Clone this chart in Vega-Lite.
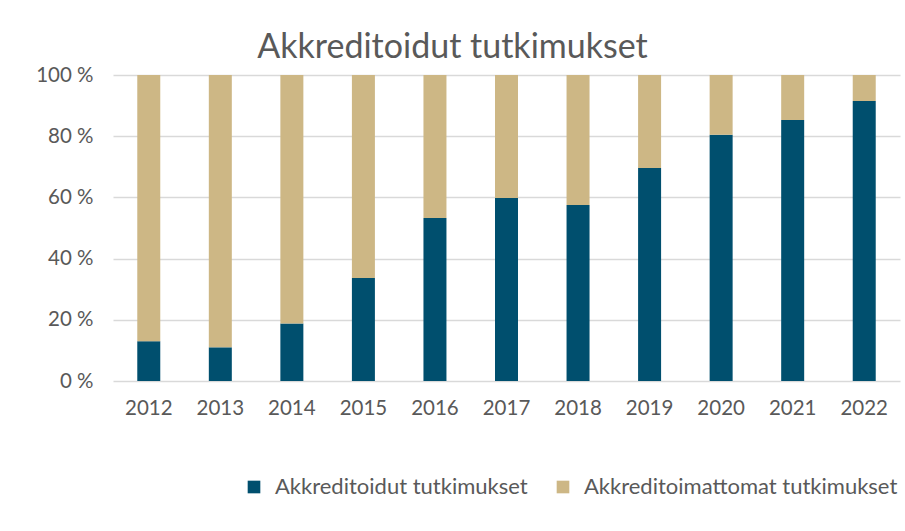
{
  "$schema": "https://vega.github.io/schema/vega-lite/v6.json",
  "width": 787,
  "height": 306,
  "autosize": {"type": "none"},
  "padding": {"left": 113, "top": 75, "right": 5, "bottom": 150},
  "background": "white",
  "title": {
    "text": "Akkreditoidut tutkimukset",
    "anchor": "middle",
    "frame": "group",
    "dx": -54,
    "offset": 0,
    "fontSize": 34,
    "font": "Lato",
    "fontWeight": "normal",
    "color": "#595959"
  },
  "data": {
    "values": [
      {"year": "2012", "series": "Akkreditoidut tutkimukset", "value": 13.0, "o": 1},
      {"year": "2013", "series": "Akkreditoidut tutkimukset", "value": 11.0, "o": 1},
      {"year": "2014", "series": "Akkreditoidut tutkimukset", "value": 18.8, "o": 1},
      {"year": "2015", "series": "Akkreditoidut tutkimukset", "value": 33.7, "o": 1},
      {"year": "2016", "series": "Akkreditoidut tutkimukset", "value": 53.3, "o": 1},
      {"year": "2017", "series": "Akkreditoidut tutkimukset", "value": 59.8, "o": 1},
      {"year": "2018", "series": "Akkreditoidut tutkimukset", "value": 57.5, "o": 1},
      {"year": "2019", "series": "Akkreditoidut tutkimukset", "value": 69.6, "o": 1},
      {"year": "2020", "series": "Akkreditoidut tutkimukset", "value": 80.5, "o": 1},
      {"year": "2021", "series": "Akkreditoidut tutkimukset", "value": 85.3, "o": 1},
      {"year": "2022", "series": "Akkreditoidut tutkimukset", "value": 91.5, "o": 1},
      {"year": "2012", "series": "Akkreditoimattomat tutkimukset", "value": 87.0, "o": 2},
      {"year": "2013", "series": "Akkreditoimattomat tutkimukset", "value": 89.0, "o": 2},
      {"year": "2014", "series": "Akkreditoimattomat tutkimukset", "value": 81.2, "o": 2},
      {"year": "2015", "series": "Akkreditoimattomat tutkimukset", "value": 66.3, "o": 2},
      {"year": "2016", "series": "Akkreditoimattomat tutkimukset", "value": 46.7, "o": 2},
      {"year": "2017", "series": "Akkreditoimattomat tutkimukset", "value": 40.2, "o": 2},
      {"year": "2018", "series": "Akkreditoimattomat tutkimukset", "value": 42.5, "o": 2},
      {"year": "2019", "series": "Akkreditoimattomat tutkimukset", "value": 30.4, "o": 2},
      {"year": "2020", "series": "Akkreditoimattomat tutkimukset", "value": 19.5, "o": 2},
      {"year": "2021", "series": "Akkreditoimattomat tutkimukset", "value": 14.7, "o": 2},
      {"year": "2022", "series": "Akkreditoimattomat tutkimukset", "value": 8.5, "o": 2}
    ]
  },
  "mark": {"type": "bar", "size": 23},
  "encoding": {
    "x": {
      "field": "year",
      "type": "nominal",
      "title": null,
      "scale": {"paddingInner": 0, "paddingOuter": 0},
      "axis": {
        "labelAngle": 0,
        "labelFontSize": 20.5,
        "labelFont": "Lato",
        "labelColor": "#595959",
        "labelPadding": 17,
        "ticks": false,
        "domain": false
      }
    },
    "y": {
      "field": "value",
      "type": "quantitative",
      "stack": "zero",
      "title": null,
      "scale": {"domain": [0, 100], "nice": false},
      "axis": {
        "values": [0, 20, 40, 60, 80, 100],
        "labelExpr": "datum.value + ' %'",
        "labelFontSize": 20.5,
        "labelFont": "Lato",
        "labelColor": "#595959",
        "labelPadding": 20,
        "ticks": false,
        "domain": false,
        "grid": true,
        "gridColor": "#d9d9d9",
        "gridWidth": 1.3
      }
    },
    "color": {
      "field": "series",
      "type": "nominal",
      "scale": {
        "domain": ["Akkreditoidut tutkimukset", "Akkreditoimattomat tutkimukset"],
        "range": ["#004f6e", "#cdb785"]
      },
      "legend": {
        "title": null,
        "orient": "none",
        "legendX": 130,
        "legendY": 401,
        "direction": "horizontal",
        "symbolType": "square",
        "symbolSize": 160,
        "symbolStrokeWidth": 0,
        "labelFontSize": 22,
        "labelFont": "Lato",
        "labelColor": "#595959",
        "labelOffset": 10,
        "columnPadding": 24,
        "labelLimit": 400
      }
    },
    "order": {"field": "o", "type": "quantitative"}
  },
  "config": {"view": {"stroke": null}}
}
